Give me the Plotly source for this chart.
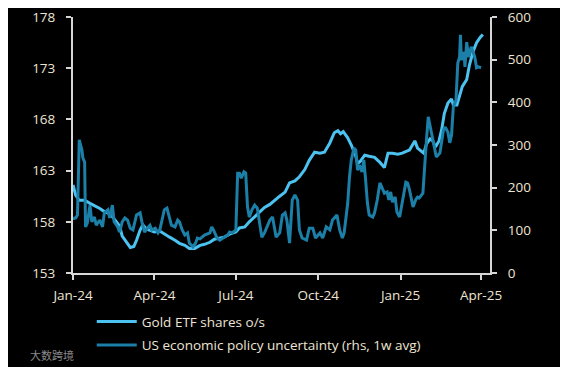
import plotly.graph_objects as go

# Gold ETF shares outstanding (left axis)
gold_dates = [
    "2024-01-01", "2024-01-04", "2024-01-08", "2024-01-14", "2024-01-20", "2024-01-25", "2024-01-31",
    "2024-02-05", "2024-02-11", "2024-02-14", "2024-02-20", "2024-02-22", "2024-02-25", "2024-03-02",
    "2024-03-05", "2024-03-09", "2024-03-12", "2024-03-16", "2024-03-19", "2024-03-23", "2024-03-27",
    "2024-04-01", "2024-04-07", "2024-04-12", "2024-04-18", "2024-04-24", "2024-04-29", "2024-05-05",
    "2024-05-10", "2024-05-16", "2024-05-22", "2024-05-27", "2024-06-02", "2024-06-07", "2024-06-13",
    "2024-06-18", "2024-06-24", "2024-07-01", "2024-07-05", "2024-07-11", "2024-07-16", "2024-07-22",
    "2024-07-28", "2024-08-02", "2024-08-08", "2024-08-13", "2024-08-19", "2024-08-25", "2024-08-30",
    "2024-09-05", "2024-09-10", "2024-09-16", "2024-09-21", "2024-09-27", "2024-10-03", "2024-10-08",
    "2024-10-14", "2024-10-19", "2024-10-23", "2024-10-26", "2024-10-29", "2024-11-03", "2024-11-07",
    "2024-11-12", "2024-11-14", "2024-11-17", "2024-11-22", "2024-11-27", "2024-12-03", "2024-12-09",
    "2024-12-14", "2024-12-18", "2024-12-23", "2024-12-29", "2025-01-03", "2025-01-08", "2025-01-11",
    "2025-01-15", "2025-01-17", "2025-01-20", "2025-01-24", "2025-01-27", "2025-01-30", "2025-02-03",
    "2025-02-06", "2025-02-09", "2025-02-13", "2025-02-16", "2025-02-19", "2025-02-23", "2025-02-27",
    "2025-03-01", "2025-03-05", "2025-03-08", "2025-03-11", "2025-03-16", "2025-03-19", "2025-03-23",
    "2025-03-27", "2025-03-31", "2025-04-03",
]
gold_values = [
    161.6, 160.6, 160.1, 160.1, 159.8, 159.6, 159.3,
    159.0, 158.8, 158.5, 157.9, 157.6, 156.6, 155.9,
    155.5, 155.6, 156.2, 157.2, 157.7, 157.3, 157.2,
    157.0, 157.1, 156.8, 156.5, 156.2, 155.9, 155.7,
    155.4, 155.4, 155.7, 155.8, 156.0, 156.3, 156.4,
    156.5, 156.8, 157.0, 157.4, 157.5, 158.0, 158.5,
    158.9, 159.4, 159.7, 160.1, 160.5, 160.9, 161.8,
    162.0, 162.4, 163.1, 164.0, 164.8, 164.7, 164.8,
    165.7, 166.7, 166.9, 166.6, 166.8, 166.2, 165.5,
    164.4, 163.7, 163.9, 164.5, 164.4, 164.3, 163.8,
    163.3, 164.7, 164.7, 164.6, 164.7, 164.9, 165.0,
    165.6, 165.9, 165.2, 164.9, 164.7, 165.6, 166.1,
    165.9, 165.3, 165.9, 167.0, 168.6, 169.6, 170.0,
    169.4, 169.4, 170.2, 171.2, 171.9, 173.3, 174.6,
    175.5, 176.0, 176.3,
]

# US economic policy uncertainty, 1w avg (right axis)
epu_dates = [
    "2024-01-01", "2024-01-02", "2024-01-04", "2024-01-06", "2024-01-08", "2024-01-11", "2024-01-12",
    "2024-01-14", "2024-01-15", "2024-01-17", "2024-01-20", "2024-01-22", "2024-01-25", "2024-01-27",
    "2024-01-31", "2024-02-03", "2024-02-05", "2024-02-09", "2024-02-11", "2024-02-14", "2024-02-16",
    "2024-02-20", "2024-02-22", "2024-02-25", "2024-02-28", "2024-03-02", "2024-03-05", "2024-03-08",
    "2024-03-12", "2024-03-16", "2024-03-18", "2024-03-21", "2024-03-24", "2024-03-27", "2024-03-29",
    "2024-04-02", "2024-04-05", "2024-04-07", "2024-04-10", "2024-04-12", "2024-04-15", "2024-04-18",
    "2024-04-20", "2024-04-24", "2024-04-27", "2024-04-29", "2024-05-02", "2024-05-05", "2024-05-08",
    "2024-05-10", "2024-05-14", "2024-05-17", "2024-05-19", "2024-05-22", "2024-05-27", "2024-06-02",
    "2024-06-04", "2024-06-06", "2024-06-10", "2024-06-13", "2024-06-18", "2024-06-22", "2024-06-24",
    "2024-06-27", "2024-07-01", "2024-07-02", "2024-07-03", "2024-07-05", "2024-07-07", "2024-07-10",
    "2024-07-12", "2024-07-14", "2024-07-16", "2024-07-19", "2024-07-22", "2024-07-25", "2024-07-28",
    "2024-07-30", "2024-08-02", "2024-08-05", "2024-08-08", "2024-08-11", "2024-08-13", "2024-08-15",
    "2024-08-19", "2024-08-22", "2024-08-25", "2024-08-27", "2024-08-30", "2024-09-02", "2024-09-05",
    "2024-09-08", "2024-09-10", "2024-09-13", "2024-09-18", "2024-09-21", "2024-09-25", "2024-09-28",
    "2024-10-03", "2024-10-06", "2024-10-10", "2024-10-14", "2024-10-17", "2024-10-22", "2024-10-25",
    "2024-10-28", "2024-10-30", "2024-11-03", "2024-11-05", "2024-11-07", "2024-11-10", "2024-11-12",
    "2024-11-14", "2024-11-16", "2024-11-19", "2024-11-21", "2024-11-23", "2024-11-25", "2024-11-27",
    "2024-12-01", "2024-12-03", "2024-12-06", "2024-12-09", "2024-12-12", "2024-12-14", "2024-12-17",
    "2024-12-19", "2024-12-21", "2024-12-23", "2024-12-26", "2024-12-28", "2024-12-31", "2025-01-03",
    "2025-01-07", "2025-01-09", "2025-01-11", "2025-01-15", "2025-01-18", "2025-01-20", "2025-01-22",
    "2025-01-26", "2025-01-28", "2025-01-30", "2025-02-01", "2025-02-04", "2025-02-06", "2025-02-08",
    "2025-02-10", "2025-02-14", "2025-02-16", "2025-02-18", "2025-02-20", "2025-02-23", "2025-02-25",
    "2025-02-27", "2025-03-01", "2025-03-04", "2025-03-06", "2025-03-08", "2025-03-09", "2025-03-10",
    "2025-03-13", "2025-03-14", "2025-03-16", "2025-03-18", "2025-03-21", "2025-03-23", "2025-03-25",
    "2025-03-27", "2025-03-29", "2025-04-01",
]
epu_values = [
    129, 128, 129, 136, 312, 288, 270,
    260, 108, 117, 159, 120, 131, 112,
    124, 108, 141, 148, 129, 159, 120,
    108, 96, 120, 129, 124, 105, 101,
    136, 141, 120, 96, 105, 112, 101,
    105, 94, 101, 129, 148, 152, 131,
    112, 108, 124, 120, 101, 89, 94,
    70, 61, 70, 82, 80, 89, 94,
    108, 101, 82, 77, 84, 89, 96,
    94, 101, 164, 234, 234, 222, 237,
    234, 155, 131, 148, 159, 152, 108,
    84, 94, 108, 124, 131, 108, 84,
    94, 136, 141, 124, 70, 171, 183,
    171, 101, 82, 77, 105, 105, 82,
    94, 82, 108, 101, 124, 136, 101,
    82, 94, 164, 225, 265, 293, 288,
    241, 253, 237, 265, 218, 164, 136,
    131, 141, 171, 211, 194, 187, 190,
    171, 190, 166, 178, 143, 131, 165,
    213, 211, 195, 155, 172, 178, 176,
    187, 258, 312, 366, 335, 312, 288,
    272, 281, 312, 335, 342, 330, 305,
    323, 389, 405, 492, 506, 558, 499,
    518, 483, 541, 506, 530, 516, 506,
    481, 483, 481,
]

left_ticks = [153, 158, 163, 168, 173, 178]
right_ticks = [0, 100, 200, 300, 400, 500, 600]
x_ticks = ["2024-01-01", "2024-04-01", "2024-07-01", "2024-10-01", "2025-01-01", "2025-04-01"]
x_ticklabels = ["Jan-24", "Apr-24", "Jul-24", "Oct-24", "Jan-25", "Apr-25"]

GOLD_COLOR = "#4CC2F1"
EPU_COLOR = "#1B7FA7"
AXIS_COLOR = "#D6D6D6"
TEXT_COLOR = "#EEE4D4"
FONT = "Open Sans"

fig = go.Figure()
fig.add_trace(go.Scatter(
    x=gold_dates, y=gold_values, mode="lines", name="Gold ETF shares o/s",
    line=dict(color=GOLD_COLOR, width=3), yaxis="y", legendgroup="a",
))
fig.add_trace(go.Scatter(
    x=epu_dates, y=epu_values, mode="lines", name="US economic policy uncertainty (rhs, 1w avg)",
    line=dict(color=EPU_COLOR, width=3), yaxis="y2", legendgroup="b",
))

axis_common = dict(
    showgrid=False, zeroline=False, showline=True, linecolor=AXIS_COLOR, linewidth=2,
    ticks="outside", tickcolor=AXIS_COLOR, tickwidth=2, ticklen=5,
    tickfont=dict(family=FONT, size=13.5, color=TEXT_COLOR),
    ticklabeloverflow="allow",
)

fig.update_layout(
    width=560, height=359,
    paper_bgcolor="black", plot_bgcolor="black",
    margin=dict(l=65, r=78, t=9, b=94, autoexpand=False),
    font=dict(family=FONT, size=13.5, color=TEXT_COLOR),
    xaxis=dict(
        range=["2024-01-01", "2025-04-11"], tickvals=x_ticks, ticktext=x_ticklabels,
        ticklabelstandoff=4, **axis_common,
    ),
    yaxis=dict(
        range=[153, 178], tickvals=left_ticks, ticklabelstandoff=8, **axis_common,
    ),
    yaxis2=dict(
        range=[0, 600], tickvals=right_ticks, overlaying="y", side="right",
        ticklabelstandoff=8, **axis_common,
    ),
    showlegend=True,
    legend=dict(
        x=0.045, y=-0.13, xanchor="left", yanchor="top", orientation="v",
        bgcolor="rgba(0,0,0,0)", font=dict(family=FONT, size=13.5, color=TEXT_COLOR),
        traceorder="grouped", tracegroupgap=3, itemwidth=40,
    ),
    annotations=[
        dict(
            text="大数跨境", xref="paper", yref="paper", x=-0.108, y=-0.32,
            xanchor="left", yanchor="middle", showarrow=False,
            font=dict(family="Noto Sans CJK SC", size=11, color="#8A8A8A"),
        )
    ],
)

fig.write_html("out.html")
